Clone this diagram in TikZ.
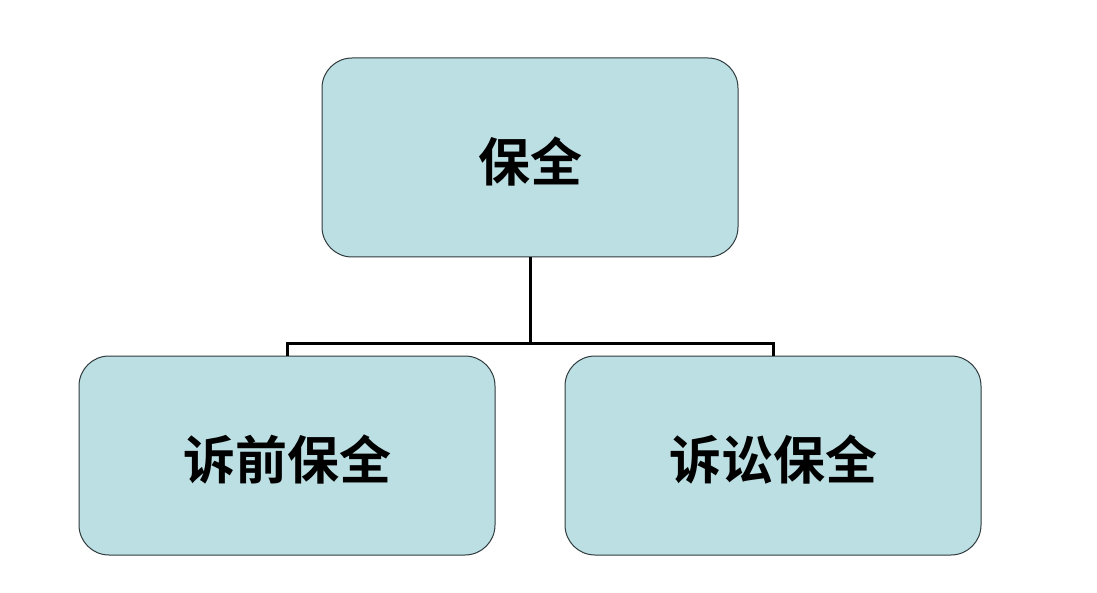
\documentclass[tikz,border=0pt]{standalone}
\usepackage{fontspec}
\newfontfamily\cjk{Noto Sans CJK SC}[BoldFont={Noto Sans CJK SC Bold}]
\definecolor{boxfill}{HTML}{BBDFE3}
\definecolor{boxline}{HTML}{2F3A3C}
\newcommand{\lowertext}[1]{\raisebox{-4pt}[\height][\depth]{#1}}
\tikzset{
  orgbox/.style={draw=boxline, line width=1pt, fill=boxfill, rounded corners=30pt,
    minimum width=416pt, minimum height=199pt, inner sep=0pt,
    font=\cjk\bfseries\fontsize{52pt}{56pt}\selectfont},
  link/.style={draw=black, line width=3pt}
}
\begin{document}
\begin{tikzpicture}[x=1pt,y=-1pt]
\useasboundingbox (0,0) rectangle (1097,593);
\node[orgbox] (top) at (530,157.5) {\lowertext{保全}};
\node[orgbox] (left) at (287,455.5) {\lowertext{诉前保全}};
\node[orgbox] (right) at (773,455.5) {\lowertext{诉讼保全}};
\coordinate (mid) at (530,344);
\draw[link] (top.south) -- (mid);
\draw[link] (left.north) |- (mid) -| (right.north);
\end{tikzpicture}
\end{document}
